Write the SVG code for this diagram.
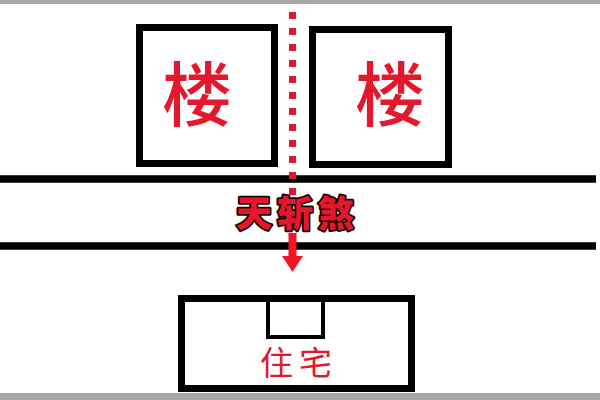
<svg xmlns="http://www.w3.org/2000/svg" width="600" height="400" viewBox="0 0 600 400">
<style>
.box{fill:#fff;stroke:#000;stroke-width:7}
.road{stroke:#000;stroke-width:7.5}
.red{fill:#e3182d;font-family:"Noto Sans CJK SC","Noto Sans",sans-serif}
.big{font-size:70px;font-weight:500}
.sha{font-size:36px;font-weight:900;letter-spacing:5px;stroke:#1a0000;stroke-width:3.5;paint-order:stroke;stroke-linejoin:round}
</style>
<rect width="600" height="400" fill="#fff"/>
<rect x="0" y="0" width="600" height="4" fill="#a9a7a8"/>
<rect x="0" y="393" width="600" height="7" fill="#a9a7a8"/>
<g id="building-left">
<rect class="box" x="139.5" y="27.5" width="135" height="136"/>
<text class="red big" x="197" y="121" text-anchor="middle">楼</text>
</g>
<g id="building-right">
<rect class="box" x="312.5" y="29.5" width="136" height="135"/>
<text class="red big" x="390" y="121" text-anchor="middle">楼</text>
</g>
<g id="road">
<line class="road" x1="0" y1="179" x2="596" y2="179"/>
<line class="road" x1="0" y1="246" x2="596" y2="246"/>
</g>
<g id="house">
<rect class="box" x="181.5" y="298.5" width="230" height="90"/>
<rect x="268" y="300" width="55" height="37" fill="none" stroke="#000" stroke-width="4"/>
<text class="red" x="299" y="375" font-size="33" letter-spacing="6" text-anchor="middle">住宅</text>
</g>
<g id="connectors">
<line x1="292.5" y1="12" x2="292.5" y2="195" stroke="#e3182d" stroke-width="7" stroke-dasharray="7 9"/>
<rect x="288.5" y="233" width="8" height="25" fill="#f01525"/>
<polygon points="282,256 303,256 292.5,272" fill="#f01525"/>
</g>
<g id="label">
<text class="red sha" x="297.5" y="227" text-anchor="middle">天斩煞</text>
</g>
</svg>
